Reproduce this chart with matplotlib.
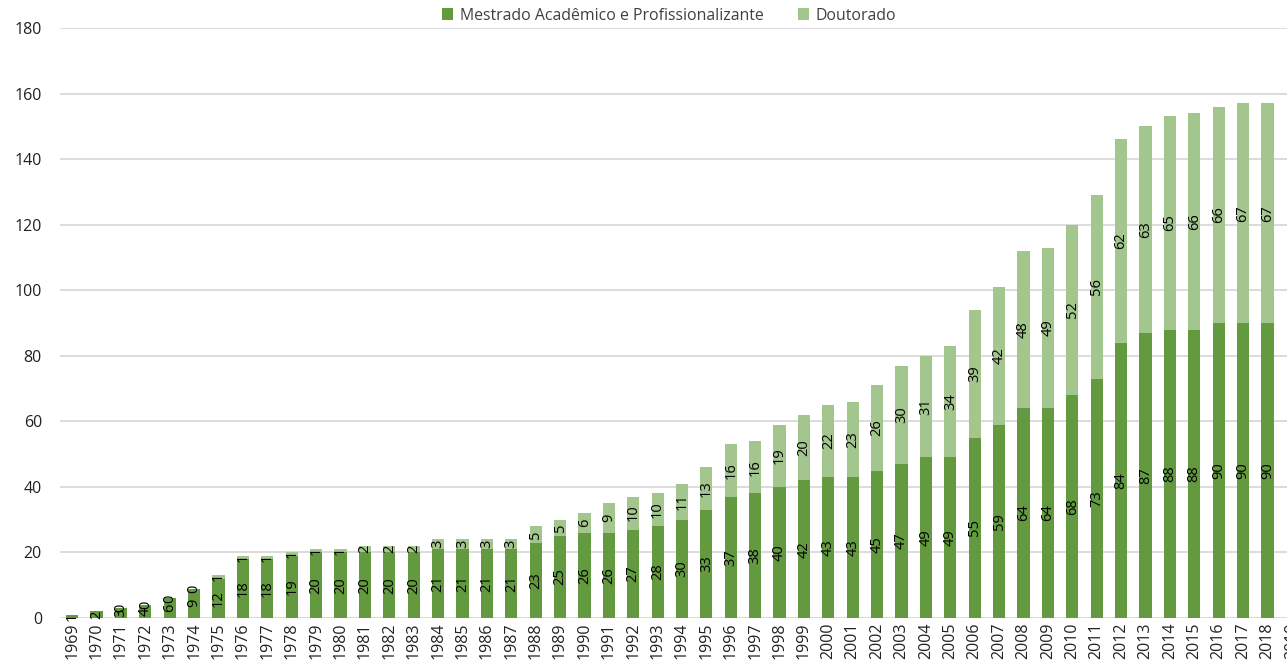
import numpy as np
import matplotlib
matplotlib.use("Agg")
import matplotlib.pyplot as plt

plt.rcParams['font.family'] = ['Open Sans', 'DejaVu Sans']

# eixo x: anos (2019 aparece cortado na borda direita)
anos = [str(a) for a in range(1969, 2020)]

# Mestrado Acadêmico e Profissionalizante
mestrado = [1, 2, 3, 4, 6, 9, 12, 18, 18, 19,
            20, 20, 20, 20, 20, 21, 21, 21, 21, 23,
            25, 26, 26, 27, 28, 30, 33, 37, 38, 40,
            42, 43, 43, 45, 47, 49, 49, 55, 59, 64,
            64, 68, 73, 84, 87, 88, 88, 90, 90, 90]

# Doutorado (None = sem rótulo)
doutorado = [None, None, 0, 0, 0, 0, 1, 1, 1, 1,
             1, 1, 2, 2, 2, 3, 3, 3, 3, 5,
             5, 6, 9, 10, 10, 11, 13, 16, 16, 19,
             20, 22, 23, 26, 30, 31, 34, 39, 42, 48,
             49, 52, 56, 62, 63, 65, 66, 66, 67, 67]

cor_mest = '#639A3F'
cor_dout = '#A3C58E'

fig = plt.figure(figsize=(12.87, 6.69), dpi=100)
ax = fig.add_axes([60/1287, 51/669, 1244/1287, 590/669])

x = np.arange(len(mestrado))
m = np.array(mestrado, dtype=float)
d = np.array([v if v is not None else 0 for v in doutorado], dtype=float)

b1 = ax.bar(x, m, width=0.5, color=cor_mest, zorder=3, label='Mestrado Acadêmico e Profissionalizante')
b2 = ax.bar(x, d, width=0.5, bottom=m, color=cor_dout, zorder=3, label='Doutorado')

# rótulos de dados
for i in range(len(x)):
    ax.text(x[i], m[i]/2, str(mestrado[i]), rotation=90, ha='center', va='center',
            fontsize=10.5, color='black', zorder=4)
    if doutorado[i] is not None:
        ax.text(x[i], m[i] + d[i]/2, str(doutorado[i]), rotation=90, ha='center', va='center',
                fontsize=10.5, color='black', zorder=4)

ax.set_xlim(-0.5, len(anos) - 0.5)
ax.set_ylim(0, 180)
ax.set_yticks(np.arange(0, 181, 20))
ax.set_xticks(np.arange(len(anos)))
ax.set_xticklabels(anos, rotation=90)
ax.grid(axis='y', color='#D9D9D9', linewidth=1.3, zorder=0)
ax.tick_params(axis='both', length=0, colors='#222222')
ax.tick_params(axis='y', pad=13, labelsize=11.5)
ax.tick_params(axis='x', pad=3, labelsize=11.5)
for s in ax.spines.values():
    s.set_visible(False)

fig.legend(handles=[b1, b2], loc='upper center', bbox_to_anchor=(0.52, 1.01), ncol=2,
           frameon=False, fontsize=11.4, handlelength=0.7, handleheight=0.7,
           handletextpad=0.4, columnspacing=2.2, labelcolor='#404040')

fig.savefig('out.png', dpi=100)
